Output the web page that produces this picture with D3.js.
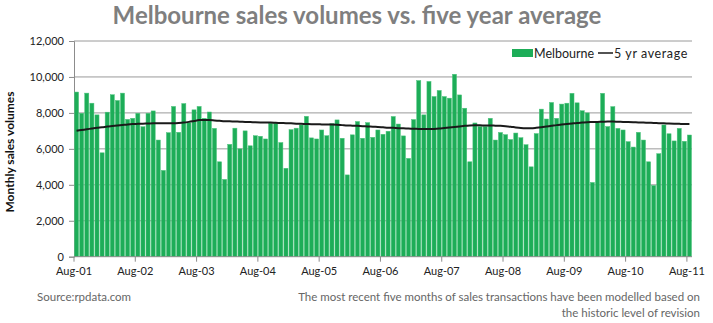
<!DOCTYPE html>
<html>
<head>
<meta charset="utf-8">
<script src="https://cdn.jsdelivr.net/npm/d3@7"></script>
<style>
  body { margin: 0; background: #fff; }
  svg { display: block; font-family: Lato, "Open Sans", sans-serif; }
</style>
</head>
<body>
<svg id="chart" width="713" height="323"></svg>
<script>
// monthly Melbourne sales volumes, Aug-01 .. Aug-11
const melbourne = [
  9160, 7980, 9100, 8540, 7890, 5780, 8040, 9010, 8690, 9100, 7640, 7700,
  7980, 7230, 7980, 8110, 6490, 4800, 6900, 8360, 6920, 8520, 7450, 8170,
  8360, 7700, 8050, 7140, 5280, 4300, 6250, 7150, 6000, 7000, 6170, 6730,
  6700, 6550, 7430, 7430, 6350, 4920, 7070, 7150, 7330, 7810, 6610, 6550,
  7050, 6730, 7400, 7610, 6590, 4550, 6780, 7520, 6590, 7460, 6640, 7050,
  6810, 6980, 7800, 7380, 6720, 5470, 7630, 9800, 7890, 9750, 8910, 9250,
  8910, 8820, 10150, 9000, 8260, 5280, 7440, 7240, 7240, 7700, 6490, 6910,
  6790, 6520, 6880, 6620, 6230, 5000, 6850, 8210, 7660, 8580, 7700, 8490,
  8540, 9090, 8560, 8120, 8000, 4130, 7470, 9090, 7240, 8350, 7140, 7050,
  6400, 6100, 6920, 6490, 5280, 3960, 5730, 7330, 6840, 6440, 7140, 6420,
  6770
];
const fiveYrAvg = [
  7010, 7050, 7090, 7130, 7170, 7200, 7240, 7270, 7300, 7330, 7360, 7380,
  7390, 7400, 7410, 7420, 7420, 7420, 7430, 7430, 7440, 7460, 7500, 7550,
  7600, 7610, 7600, 7580, 7560, 7540, 7530, 7520, 7510, 7500, 7490, 7480,
  7470, 7460, 7460, 7450, 7440, 7430, 7420, 7400, 7390, 7380, 7370, 7370,
  7360, 7350, 7350, 7340, 7320, 7300, 7290, 7280, 7260, 7250, 7230, 7220,
  7200, 7180, 7170, 7150, 7140, 7130, 7120, 7110, 7100, 7100, 7110, 7130,
  7160, 7190, 7220, 7250, 7280, 7300, 7310, 7310, 7300, 7300, 7290, 7280,
  7260, 7230, 7190, 7160, 7150, 7150, 7170, 7200, 7240, 7280, 7320, 7350,
  7380, 7410, 7440, 7460, 7480, 7490, 7500, 7510, 7520, 7520, 7510, 7500,
  7490, 7480, 7470, 7460, 7450, 7440, 7430, 7420, 7410, 7400, 7390, 7380,
  7380
];
const xTickLabels = ["Aug-01", "Aug-02", "Aug-03", "Aug-04", "Aug-05", "Aug-06",
                     "Aug-07", "Aug-08", "Aug-09", "Aug-10", "Aug-11"];
const yTicks = [0, 2000, 4000, 6000, 8000, 10000, 12000];

const svg = d3.select('#chart');
const plotL = 74, plotR = 692, plotT = 41, plotB = 256.7;

const x = d3.scaleBand()
    .domain(d3.range(melbourne.length))
    .range([plotL, plotR])
    .paddingInner(0.2)
    .paddingOuter(0.1);
const y = d3.scaleLinear().domain([0, 12000]).range([plotB, plotT]);
const fmt = d3.format(',');

// title
svg.append('text')
    .attr('x', 357).attr('y', 24)
    .attr('text-anchor', 'middle')
    .attr('font-size', 24).attr('font-weight', 'bold')
    .attr('fill', '#7f7f7f')
    .text('Melbourne sales volumes vs. five year average');

// gridlines
svg.append('g').selectAll('line')
    .data(yTicks.filter(d => d > 0))
    .enter().append('line')
    .attr('x1', plotL).attr('x2', plotR)
    .attr('y1', d => y(d)).attr('y2', d => y(d))
    .attr('stroke', '#9a9a9a').attr('stroke-width', 1);

// y axis
const yAxis = svg.append('g')
    .attr('transform', 'translate(' + plotL + ',0)')
    .call(d3.axisLeft(y).tickValues(yTicks).tickFormat(fmt).tickSize(5).tickPadding(5));
yAxis.select('.domain').attr('stroke', '#8c8c8c');
yAxis.selectAll('.tick line').attr('stroke', '#8c8c8c');
yAxis.selectAll('text').attr('font-size', 11).attr('fill', '#222')
    .attr('font-family', 'Lato, sans-serif');

svg.append('text')
    .attr('transform', 'translate(14,152) rotate(-90)')
    .attr('text-anchor', 'middle')
    .attr('font-size', 12).attr('font-weight', 'bold')
    .attr('fill', '#111')
    .text('Monthly sales volumes');

// bars
svg.append('g').selectAll('rect')
    .data(melbourne)
    .enter().append('rect')
    .attr('x', (d, i) => x(i))
    .attr('y', d => y(d))
    .attr('width', x.bandwidth())
    .attr('height', d => plotB - y(d))
    .attr('fill', '#1dad58')
    .attr('stroke', '#4cc47d')
    .attr('stroke-width', 0.5);

// 5 yr average line
const line = d3.line()
    .x((d, i) => x(i) + x.bandwidth() / 2)
    .y(d => y(d))
    .curve(d3.curveMonotoneX);
svg.append('path')
    .datum(fiveYrAvg)
    .attr('d', line)
    .attr('fill', 'none')
    .attr('stroke', '#1a1a1a')
    .attr('stroke-width', 2);

// x axis
const tickX = i => x(i) - x.step() * x.paddingInner() / 2;
const xg = svg.append('g');
xg.append('line')
    .attr('x1', plotL).attr('x2', plotR)
    .attr('y1', plotB).attr('y2', plotB)
    .attr('stroke', '#8c8c8c');
const xt = xg.selectAll('g.xtick')
    .data(xTickLabels)
    .enter().append('g')
    .attr('class', 'xtick')
    .attr('transform', (d, k) => 'translate(' + tickX(k * 12) + ',' + plotB + ')');
xt.append('line').attr('y2', 5).attr('stroke', '#8c8c8c');
xt.append('text')
    .attr('y', 18)
    .attr('text-anchor', 'middle')
    .attr('font-size', 11).attr('fill', '#222')
    .text(d => d);

// legend
const lg = svg.append('g').attr('transform', 'translate(512,53)');
lg.append('rect').attr('x', 0).attr('y', -4).attr('width', 21).attr('height', 8).attr('fill', '#1dad58');
lg.append('text').attr('x', 22).attr('y', 4.5).attr('font-size', 12.5).attr('fill', '#222').text('Melbourne');
lg.append('line').attr('x1', 86).attr('x2', 101).attr('y1', 0).attr('y2', 0)
    .attr('stroke', '#1a1a1a').attr('stroke-width', 1.5);
lg.append('text').attr('x', 102).attr('y', 4.5).attr('font-size', 12.5)
    .attr('letter-spacing', 0.6).attr('fill', '#222').text('5 yr average');

// footer
const footSize = 11.5;
svg.append('text')
    .attr('x', 37).attr('y', 301)
    .attr('font-size', footSize).attr('fill', '#666')
    .text('Source:rpdata.com');
svg.append('text')
    .attr('x', 700).attr('y', 301)
    .attr('text-anchor', 'end')
    .attr('font-size', footSize).attr('fill', '#666')
    .text('The most recent five months of sales transactions have been modelled based on');
svg.append('text')
    .attr('x', 700).attr('y', 317)
    .attr('text-anchor', 'end')
    .attr('font-size', footSize).attr('fill', '#666')
    .text('the historic level of revision');
</script>
</body>
</html>
